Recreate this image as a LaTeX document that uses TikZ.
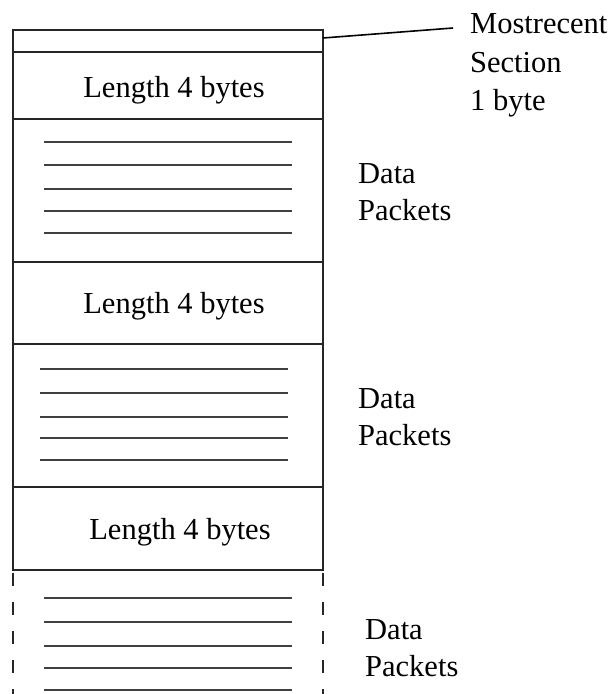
\documentclass[tikz,border=0pt]{standalone}
\usepackage{fontspec}
\setmainfont{Liberation Serif}
\begin{document}
\begin{tikzpicture}[x=1pt,y=-1pt,
  sect/.style={draw=black!85,line width=2pt,rectangle,minimum width=310pt,inner sep=0pt,outer sep=0pt},
  rule/.style={draw=black!75,line width=2.8pt},
  gap/.style={draw=black!85,line width=2pt,dash pattern=on 13pt off 16pt},
  lbl/.style={inner sep=0pt,anchor=base,font=\fontsize{30.5}{37}\selectfont},
  side/.style={inner sep=0pt,anchor=base west,font=\fontsize{30.5}{37}\selectfont},
  leader/.style={draw=black,line width=1.6pt}]
\useasboundingbox (0,0) rectangle (612,694);

% stacked sections of the record layout
\node[sect,minimum height=22pt]  (hdr)   at (168,41)    {};
\node[sect,minimum height=67pt]  (len1)  at (168,85.5)  {};
\node[sect,minimum height=143pt] (data1) at (168,190.5) {};
\node[sect,minimum height=82pt]  (len2)  at (168,303)   {};
\node[sect,minimum height=143pt] (data2) at (168,415.5) {};
\node[sect,minimum height=83pt]  (len3)  at (168,528.5) {};

% length field captions
\node[lbl] (t1) at (174,97)  {Length 4 bytes};
\node[lbl] (t2) at (174,313) {Length 4 bytes};
\node[lbl] (t3) at (180,539) {Length 4 bytes};

% packet lines inside the data sections
\foreach \y in {142,165,189,211,233} \draw[rule] (44,\y) -- (292,\y);
\foreach \y in {369,393,417,438,460} \draw[rule] (40,\y) -- (288,\y);
\foreach \y in {598,622,646,668,690} \draw[rule] (44,\y) -- (292,\y);

% open-ended continuation below the last length field
\coordinate (gl0) at (13,573);
\coordinate (gl1) at (13,694);
\coordinate (gr0) at (323,573);
\coordinate (gr1) at (323,694);
\draw[gap] (gl0) -- (gl1);
\draw[gap] (gr0) -- (gr1);

% side captions
\node[side] (mr1) at (470,33)  {Mostrecent};
\node[side] (mr2) at (470,72)  {Section};
\node[side] (mr3) at (470,110) {1 byte};

\node[side] (d1a) at (358,183) {Data};
\node[side] (d1b) at (358,220) {Packets};
\node[side] (d2a) at (358,408) {Data};
\node[side] (d2b) at (358,445) {Packets};
\node[side] (d3a) at (365,639) {Data};
\node[side] (d3b) at (365,676) {Packets};

% leader from the one-byte header to its caption
\coordinate (leadend) at (453,28);
\draw[leader] ([yshift=3pt]hdr.east) -- (leadend);
\end{tikzpicture}
\end{document}
